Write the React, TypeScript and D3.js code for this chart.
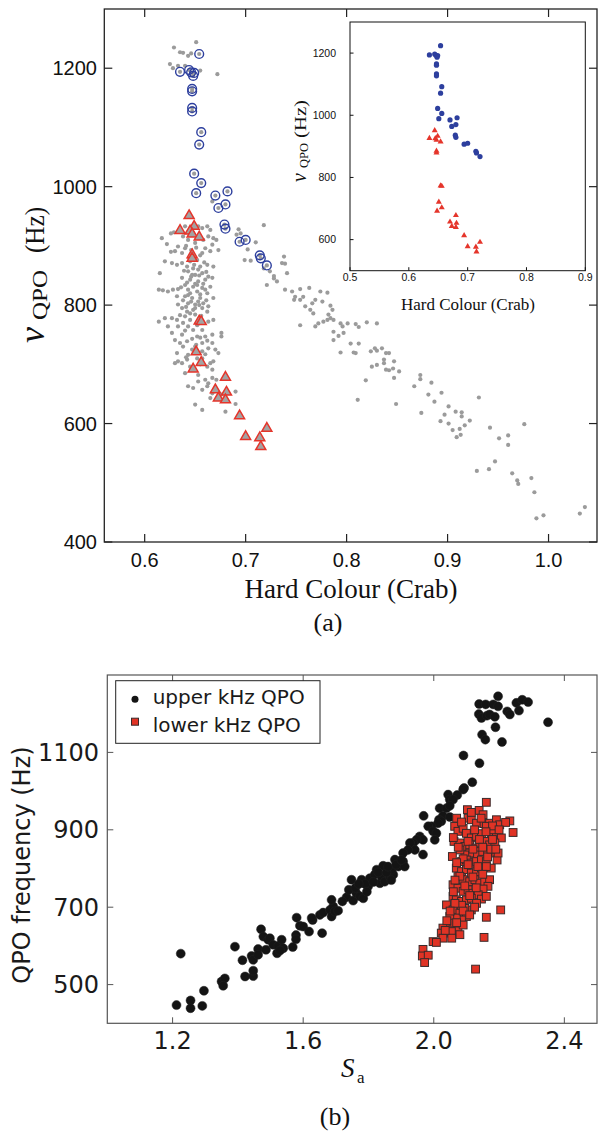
import React from "react";
import * as d3 from "d3";

// ---------- Panel (a) data: hard colour vs QPO frequency ----------
const grayPoints: [number, number][] = [
  [0.629,1235],[0.635,1227],[0.638,1226],[0.643,1221],[0.651,1244],[0.625,1207],[0.628,1200],[0.633,1204],[0.640,1204],[0.655,1196],[0.672,1190],[0.646,1225],
  [0.667,975],
  [0.718,935],[0.693,928],[0.695,921],[0.691,919],[0.710,906],[0.702,894],[0.699,876],[0.705,875],[0.738,882],[0.739,870],[0.736,871],[0.718,862],[0.724,857],[0.728,849],[0.731,840],[0.721,834],[0.728,845],[0.741,854],[0.739,826],[0.746,823],[0.754,827],[0.763,829],[0.749,814],[0.757,814],[0.754,809],[0.748,809],[0.774,823],[0.781,821],[0.769,809],[0.766,803],[0.759,798],[0.764,792],[0.767,786],[0.776,806],[0.784,799],[0.786,792],[0.782,784],[0.784,778],[0.787,775],[0.781,775],[0.777,772],[0.772,769],[0.769,764],[0.754,766],[0.794,769],[0.801,769],[0.809,768],[0.812,763],[0.796,764],[0.787,755],[0.792,748],[0.797,753],[0.787,741],[0.820,771],[0.830,769],[0.804,735],[0.812,735],[0.794,720],[0.807,720],[0.809,719],[0.824,722],[0.828,727],[0.830,723],[0.835,727],[0.839,719],[0.842,719],[0.825,696],[0.830,699],[0.837,708],[0.837,702],[0.839,691],[0.842,690],[0.847,705],[0.852,688],[0.847,677],[0.819,673],[0.811,640],[0.849,633],[0.867,663],[0.690,633],
  [0.846,693],[0.873,682],[0.873,675],[0.884,669],[0.881,649],[0.894,652],[0.887,637],[0.874,618],[0.901,629],[0.897,615],[0.908,620],[0.914,619],[0.914,612],[0.893,604],[0.901,600],[0.922,605],[0.917,597],[0.905,589],[0.912,591],[0.913,581],[0.909,577],[0.931,644],[0.942,593],[0.951,575],[0.960,580],[0.960,564],[0.976,599],[0.929,520],[0.941,523],[0.947,536],[0.964,516],[0.969,504],[0.970,498],[0.983,508],[0.986,484],[0.988,440],[0.995,445],[1.031,448],[1.036,459],
  [0.626,921],[0.629,923],[0.633,924],[0.640,933],[0.638,916],[0.643,910],[0.653,933],[0.657,930],[0.662,933],[0.665,927],[0.663,916],[0.668,913],[0.671,910],[0.658,910],[0.650,905],[0.633,899],[0.640,896],[0.660,896],[0.667,902],[0.673,893],[0.630,891],[0.637,888],[0.657,888],[0.665,891],
  [0.620,874],[0.627,871],[0.632,868],[0.637,871],[0.642,865],[0.648,862],[0.655,865],[0.662,868],[0.668,865],[0.615,854],[0.643,857],[0.650,851],[0.657,854],[0.663,848],[0.637,846],[0.645,843],[0.653,840],[0.660,843],[0.667,846],[0.640,834],[0.648,831],[0.657,829],[0.665,831],
  [0.614,826],[0.618,825],[0.623,823],[0.628,826],[0.633,827],[0.643,826],[0.652,823],[0.662,820],[0.632,815],[0.640,815],[0.647,812],[0.655,812],[0.668,812],[0.633,801],[0.643,803],[0.650,801],[0.658,803],[0.663,798],[0.637,795],[0.648,792],[0.662,789],
  [0.614,772],[0.620,778],[0.627,778],[0.632,775],[0.640,781],[0.645,775],[0.663,772],[0.668,775],[0.623,764],[0.633,764],[0.643,764],[0.657,758],[0.676,753],[0.627,753],[0.637,750],[0.652,747],[0.667,750],[0.676,747],[0.630,741],[0.642,739],[0.657,736],[0.667,736],[0.638,730],[0.650,730],[0.663,727],[0.670,725],[0.632,719],[0.643,716],[0.657,722],[0.673,719],
  [0.633,705],[0.642,708],[0.657,710],[0.665,702],[0.630,702],[0.645,696],[0.662,696],[0.667,691],[0.640,685],[0.653,682],[0.667,677],[0.660,674],[0.671,674],[0.643,663],[0.648,660],[0.657,657],[0.663,668],[0.653,671],[0.667,651],[0.676,649],[0.665,643],[0.690,654],[0.650,632],[0.657,623],[0.680,620],[0.671,657],
  [0.647,882],[0.652,876],[0.645,874],[0.653,860],[0.647,851],[0.652,834],[0.643,817],[0.653,806],[0.657,795],[0.642,789],[0.650,784],[0.655,772],[0.638,770],[0.648,758],[0.660,747],[0.652,710],[0.647,725],[0.637,702],[0.648,691],[0.662,663],
  [0.641,900],[0.646,893],[0.651,897],[0.655,884],[0.644,880],[0.649,868],[0.659,872],[0.639,858],[0.646,848],[0.654,850],[0.661,856],[0.642,838],[0.650,836],[0.658,836],[0.636,830],[0.645,820],[0.655,818],[0.660,826],[0.638,808],[0.646,806],[0.654,800],[0.661,808],[0.641,797],[0.650,795],[0.645,786],[0.656,782],[0.635,783],[0.652,766],[0.640,757],[0.647,743],[0.655,745],[0.662,740],[0.635,736],[0.651,733],[0.660,717],[0.641,712],[0.655,700],[0.668,705],[0.626,890],[0.622,903],[0.617,913]
];

const upperPoints: [number, number][] = [
  [0.654,1224],[0.635,1194],[0.644,1197],[0.646,1193],[0.649,1192],[0.648,1187],[0.647,1165],[0.647,1161],[0.647,1133],[0.647,1127],
  [0.656,1092],[0.654,1071],[0.649,1022],[0.656,1006],[0.651,989],[0.670,985],[0.682,992],[0.673,964],[0.680,970],[0.679,936],[0.680,929],
  [0.694,907],[0.700,910],[0.714,884],[0.715,879],[0.721,867]
];

const lowerPoints: [number, number][] = [
  [0.644,951],[0.635,926],[0.649,933],[0.645,925],[0.647,920],[0.654,915],[0.647,885],[0.647,879],
  [0.654,773],[0.656,772],[0.651,721],[0.656,703],[0.648,692],[0.680,678],[0.670,657],[0.681,653],[0.673,643],[0.680,640],
  [0.694,613],[0.700,578],[0.714,576],[0.715,561],[0.721,592]
];

const aXTicks = [0.6, 0.7, 0.8, 0.9, 1.0];
const aYTicks = [400, 600, 800, 1000, 1200];
const insetXTicks = [0.5, 0.6, 0.7, 0.8, 0.9];
const insetYTicks = [600, 800, 1000, 1200];

// ---------- Panel (b) data: S_a vs QPO frequency ----------
const upperKHz: [number, number][] = [
  [1.225,580],[1.212,447],[1.255,459],[1.255,439],[1.291,445],[1.296,484],[1.350,508],[1.360,516],[1.355,497],[1.391,598],[1.414,563],[1.422,521],[1.447,522],[1.447,536],[1.442,574],[1.462,592],[1.447,564],[1.462,577],[1.471,643],[1.478,624],[1.493,616],[1.498,620],[1.486,590],[1.508,603],[1.520,581],[1.524,600],[1.534,616],[1.539,594],[1.529,588],[1.568,597],[1.578,628],[1.578,617],[1.580,673],[1.590,652],[1.600,650],[1.618,637],[1.629,667],[1.626,672],[1.658,633],[1.651,680],[1.661,686],[1.682,693],[1.687,676],[1.692,702],[1.687,719],[1.697,689],[1.707,691],[1.733,726],[1.748,771],[1.753,717],[1.763,736],[1.774,728],[1.779,771],[1.784,723],[1.799,754],[1.809,771],[1.804,775],[1.825,797],[1.819,784],[1.835,762],[1.840,779],[1.845,807],[1.850,766],[1.865,779],[1.876,784],[1.871,797],[1.891,805],[1.881,823],
  [1.720,715],[1.740,745],[1.760,750],[1.790,760],[1.815,765],[1.830,790],[1.855,790],[1.860,805],[1.885,810],[1.870,770],[1.795,740],[1.770,760],
  [2.197,1245],[2.139,1225],[2.159,1224],[2.182,1224],[2.197,1219],[2.138,1199],[2.146,1189],[2.163,1195],[2.171,1198],[2.187,1192],[2.225,1206],[2.233,1198],[2.253,1228],[2.271,1236],[2.289,1230],[2.261,1208],[2.350,1178],[2.189,1165],[2.148,1146],[2.158,1133],[2.209,1127],[2.091,1092],[2.140,1072],[2.118,1023],[2.093,1008],[2.090,1004],[2.072,990],[2.044,991],[2.049,978],[2.059,978],[2.018,956],[2.039,956],[2.049,962],[1.969,936],[2.028,936],[2.049,933],[2.016,926],[2.023,922],[2.013,917],[1.993,909],[1.983,909],[1.998,896],[2.008,891],[1.957,883],[1.967,874],[1.947,874],[1.937,866],[1.927,866],[2.003,874],[1.967,836],[1.942,848],[1.921,848],[1.906,840],[1.906,818],[1.911,805],[1.901,822]
];

const lowerKHz: [number, number][] = [
  [2.161,971],[2.103,952],[2.139,950],[2.151,939],[2.105,930],[2.115,926],[2.131,917],[2.154,916],[2.171,917],[2.192,926],[2.202,913],[2.233,923],[2.220,919],[2.243,893],
  [2.064,909],[2.074,896],[2.090,904],[2.100,891],[2.115,879],[2.131,883],[2.146,890],[2.161,909],[2.176,887],[2.192,883],[2.207,879],[2.182,900],
  [2.062,870],[2.080,866],[2.095,857],[2.110,861],[2.126,853],[2.141,866],[2.156,870],[2.171,861],[2.187,866],[2.182,840],[2.166,844],[2.156,840],[2.141,844],[2.126,835],[2.110,840],[2.095,835],[2.080,848],[2.057,831],[2.085,818],[2.100,822],[2.115,814],[2.131,818],[2.146,822],[2.161,818],[2.176,801],[2.194,822],[2.197,840],
  [2.069,801],[2.085,792],[2.100,797],[2.115,788],[2.131,792],[2.146,801],[2.161,805],[2.074,779],[2.090,771],[2.110,766],[2.126,771],[2.141,762],[2.156,766],[2.171,771],[2.166,754],[2.151,747],
  [2.059,758],[2.074,749],[2.090,741],[2.105,745],[2.120,736],[2.136,732],[2.146,721],[2.059,728],[2.069,719],[2.085,715],[2.100,719],[2.115,723],[2.131,710],[2.115,693],[2.095,697],[2.074,702],[2.039,706],[2.059,693],[2.080,685],[2.100,676],[2.085,667],[2.069,672],[2.049,676],
  [2.044,650],[2.059,646],[2.074,641],[2.090,654],[2.064,659],[2.028,646],[2.023,633],[2.039,633],[2.054,637],[2.028,620],[1.998,611],[2.008,609],[2.080,629],
  [2.205,693],[2.161,674],[2.154,622],[1.967,591],[1.965,574],[1.983,576],[1.972,557],[2.128,540],[2.161,728],
  [2.070,930],[2.085,920],[2.125,900],[2.140,875],[2.105,870],[2.120,850],[2.075,855],[2.150,855],[2.165,830],[2.090,825],[2.135,805],[2.105,810],[2.080,780],[2.120,778],[2.150,785],[2.065,770],[2.095,755],[2.130,750],[2.060,740],[2.110,730],[2.085,705],[2.125,700],[2.065,710],[2.050,690],[2.090,690],[2.070,660],[2.040,665],[2.110,680],[2.055,620],[2.035,640],[2.180,910],[2.200,900],[2.160,895],[2.180,875],[2.145,930],[2.115,945],[2.175,850],[2.190,850],[2.060,880],[2.070,815]
];

const bXTicks = [1.2, 1.6, 2.0, 2.4];
const bYTicks = [500, 700, 900, 1100];
const legendItems = ["upper kHz QPO", "lower kHz QPO"];

const SERIF = "'Liberation Serif', 'Times New Roman', serif";
const SANS = "'Liberation Sans', Arial, sans-serif";
const DEJAVU = "'DejaVu Sans', sans-serif";

function tri(cx: number, cy: number, s: number) {
  const h = (s * Math.sqrt(3)) / 2;
  const p = d3.path();
  p.moveTo(cx, cy - (2 * h) / 3);
  p.lineTo(cx + s / 2, cy + h / 3);
  p.lineTo(cx - s / 2, cy + h / 3);
  p.closePath();
  return p.toString();
}

export default function App() {
  // panel (a)
  const xA = d3.scaleLinear().domain([0.56, 1.048]).range([104.3, 597]);
  const yA = d3.scaleLinear().domain([400, 1300]).range([542, 9]);
  // inset
  const xI = d3.scaleLinear().domain([0.5, 0.9]).range([350, 585.3]);
  const yI = d3.scaleLinear().domain([500, 1300]).range([270.7, 22]);
  // panel (b)
  const xB = d3.scaleLinear().domain([1.0, 2.5]).range([107.3, 597]);
  const yB = d3.scaleLinear().domain([400, 1300]).range([1023.3, 675]);

  const aL = xA.range()[0], aR = xA.range()[1], aT = yA.range()[1], aB = yA.range()[0];
  const iL = xI.range()[0], iR = xI.range()[1], iT = yI.range()[1], iB = yI.range()[0];
  const bL = xB.range()[0], bR = xB.range()[1], bT = yB.range()[1], bBt = yB.range()[0];

  const grayC = "#9b9b9b";
  const blueC = "#2d3f9e";
  const redC = "#e5352b";

  return (
    <svg width={598} height={1133} style={{ display: "block", position: "absolute", left: 0, top: 0 }}>
      <rect x={0} y={0} width={598} height={1133} fill="#fff" />

      {/* ================= Panel (a) ================= */}
      <g>
        {grayPoints.map((d, i) => (
          <circle key={"g" + i} cx={xA(d[0])} cy={yA(d[1])} r={2.1} fill={grayC} />
        ))}
        {upperPoints.map((d, i) => (
          <circle key={"ug" + i} cx={xA(d[0])} cy={yA(d[1])} r={2.1} fill={grayC} />
        ))}
        {lowerPoints.map((d, i) => (
          <path key={"lt" + i} d={tri(xA(d[0]), yA(d[1]), 10)} fill="#a3a3a3" stroke={redC} strokeWidth={1.5} />
        ))}
        {upperPoints.map((d, i) => (
          <circle key={"uc" + i} cx={xA(d[0])} cy={yA(d[1])} r={4.4} fill="none" stroke={blueC} strokeWidth={1.4} />
        ))}

        {/* frame */}
        <rect x={aL} y={aT} width={aR - aL} height={aB - aT} fill="none" stroke="#222" strokeWidth={1.3} />
        {aXTicks.map((t) => (
          <g key={"axt" + t}>
            <line x1={xA(t)} x2={xA(t)} y1={aB} y2={aB - 8} stroke="#222" strokeWidth={1.2} />
            <line x1={xA(t)} x2={xA(t)} y1={aT} y2={aT + 8} stroke="#222" strokeWidth={1.2} />
            <text x={xA(t)} y={567} textAnchor="middle" fontFamily={SANS} fontSize={20} fill="#111">
              {d3.format(".1f")(t)}
            </text>
          </g>
        ))}
        {aYTicks.map((t) => (
          <g key={"ayt" + t}>
            <line x1={aL} x2={aL + 8} y1={yA(t)} y2={yA(t)} stroke="#222" strokeWidth={1.2} />
            <line x1={aR} x2={aR - 8} y1={yA(t)} y2={yA(t)} stroke="#222" strokeWidth={1.2} />
            <text x={97} y={yA(t) + 7} textAnchor="end" fontFamily={SANS} fontSize={20} fill="#111">
              {t}
            </text>
          </g>
        ))}
        <text x={351} y={598} textAnchor="middle" fontFamily={SERIF} fontSize={27} fill="#111">
          Hard Colour (Crab)
        </text>
        <g transform="translate(44,343) rotate(-90)" fontFamily={SERIF} fill="#111">
          <text x={0} y={0} fontSize={36} fontStyle="italic">ν</text>
          <text x={23} y={3} fontSize={21} textLength={50} lengthAdjust="spacingAndGlyphs">QPO</text>
          <text x={90} y={0} fontSize={27} textLength={46} lengthAdjust="spacingAndGlyphs">(Hz)</text>
        </g>
        <text x={328} y={631} textAnchor="middle" fontFamily={SERIF} fontSize={26} fill="#111">(a)</text>

        {/* inset */}
        <rect x={iL} y={iT} width={iR - iL} height={iB - iT} fill="#fff" stroke="#111" strokeWidth={1} />
        {upperPoints.map((d, i) => (
          <circle key={"iu" + i} cx={xI(d[0])} cy={yI(d[1])} r={2.6} fill={blueC} />
        ))}
        {lowerPoints.map((d, i) => (
          <path key={"il" + i} d={tri(xI(d[0]), yI(d[1]), 6)} fill={redC} />
        ))}
        {insetXTicks.map((t) => (
          <g key={"ixt" + t}>
            <line x1={xI(t)} x2={xI(t)} y1={iB} y2={iB - 3.5} stroke="#111" strokeWidth={1} />
            <text x={xI(t)} y={281} textAnchor="middle" fontFamily={SANS} fontSize={10.5} fill="#111">
              {d3.format(".1f")(t)}
            </text>
          </g>
        ))}
        {insetYTicks.map((t) => (
          <g key={"iyt" + t}>
            <line x1={iL} x2={iL + 3.5} y1={yI(t)} y2={yI(t)} stroke="#111" strokeWidth={1} />
            <text x={336} y={yI(t) + 3.7} textAnchor="end" fontFamily={SANS} fontSize={10.5} fill="#111">
              {t}
            </text>
          </g>
        ))}
        <text x={468} y={310} textAnchor="middle" fontFamily={SERIF} fontSize={17} fill="#111">
          Hard Colour (Crab)
        </text>
        <g transform="translate(306,182) rotate(-90)" fontFamily={SERIF} fill="#111">
          <text x={0} y={0} fontSize={20} fontStyle="italic">ν</text>
          <text x={14} y={2} fontSize={12} textLength={25} lengthAdjust="spacingAndGlyphs">QPO</text>
          <text x={44} y={0} fontSize={17} textLength={38} lengthAdjust="spacingAndGlyphs">(Hz)</text>
        </g>
      </g>

      {/* ================= Panel (b) ================= */}
      <g>
        {upperKHz.map((d, i) => (
          <circle key={"bu" + i} cx={xB(d[0])} cy={yB(d[1])} r={4.5} fill="#141414" stroke="#222" strokeWidth={0.5} />
        ))}
        {lowerKHz.map((d, i) => (
          <rect key={"bl" + i} x={xB(d[0]) - 3.9} y={yB(d[1]) - 3.9} width={7.8} height={7.8} fill="#e03325" stroke="#3a2a2a" strokeWidth={1} />
        ))}
        <rect x={bL} y={bT} width={bR - bL} height={bBt - bT} fill="none" stroke="#555" strokeWidth={1.2} />
        {bXTicks.map((t) => (
          <g key={"bxt" + t}>
            <line x1={xB(t)} x2={xB(t)} y1={bBt} y2={bBt - 6} stroke="#555" strokeWidth={1} />
            <line x1={xB(t)} x2={xB(t)} y1={bT} y2={bT + 6} stroke="#555" strokeWidth={1} />
            <text x={xB(t)} y={1049} textAnchor="middle" fontFamily={DEJAVU} fontSize={24} fill="#1a1a1a">
              {d3.format(".1f")(t)}
            </text>
          </g>
        ))}
        {bYTicks.map((t) => (
          <g key={"byt" + t}>
            <line x1={bL} x2={bL + 6} y1={yB(t)} y2={yB(t)} stroke="#555" strokeWidth={1} />
            <line x1={bR} x2={bR - 6} y1={yB(t)} y2={yB(t)} stroke="#555" strokeWidth={1} />
            <text x={99} y={yB(t) + 8.5} textAnchor="end" fontFamily={DEJAVU} fontSize={24} fill="#1a1a1a">
              {t}
            </text>
          </g>
        ))}
        <text transform="translate(30,865) rotate(-90)" textAnchor="middle" fontFamily={DEJAVU} fontSize={24} fill="#1a1a1a">
          QPO frequency (Hz)
        </text>
        <text x={341} y={1077} fontFamily={SERIF} fontSize={27} fontStyle="italic" fill="#111">S</text>
        <text x={357} y={1083} fontFamily={SERIF} fontSize={17} fill="#111">a</text>
        <text x={335} y={1125} textAnchor="middle" fontFamily={SERIF} fontSize={26} fill="#111">(b)</text>

        {/* legend */}
        <rect x={115.7} y={680.7} width={204.3} height={62.6} fill="#fff" stroke="#222" strokeWidth={1} />
        <circle cx={135} cy={699.3} r={3.5} fill="#141414" />
        <rect x={131.5} y={718.2} width={7} height={7} fill="#e03325" stroke="#3a2a2a" strokeWidth={1} />
        {legendItems.map((s, i) => (
          <text key={s} x={152.7} y={704 + i * 27.5} fontFamily={DEJAVU} fontSize={20} fill="#1a1a1a">
            {s}
          </text>
        ))}
      </g>
    </svg>
  );
}
